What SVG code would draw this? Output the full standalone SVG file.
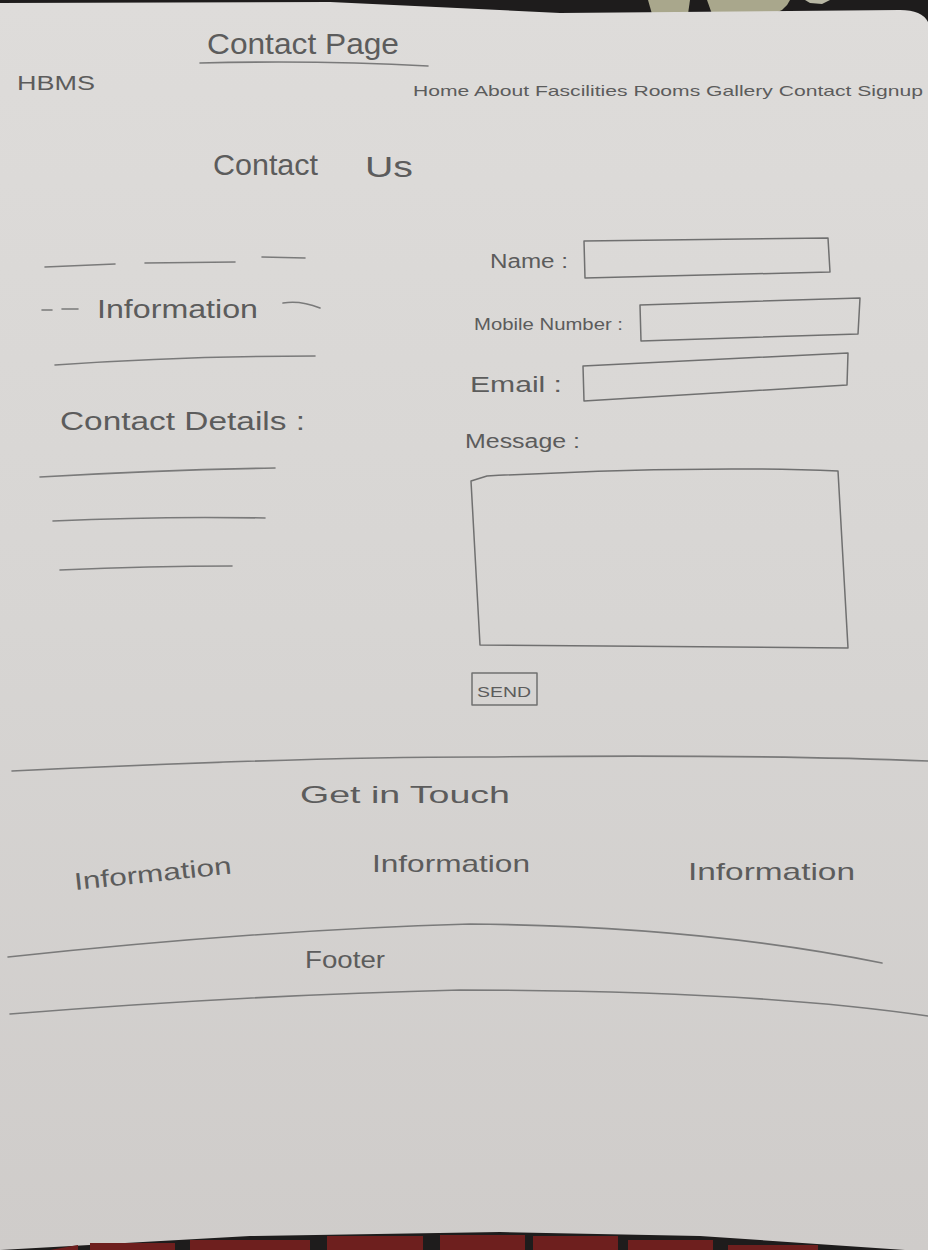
<svg xmlns="http://www.w3.org/2000/svg" width="928" height="1250" viewBox="0 0 928 1250">
  <style>
    .pen { fill: none; stroke: #7a7a7a; stroke-width: 1.6; stroke-linecap: round; stroke-linejoin: round; }
    .box { fill: none; stroke: #707070; stroke-width: 1.5; stroke-linejoin: round; }
    .txt { font-family: "Liberation Sans", "DejaVu Sans", sans-serif; fill: #5c5c5c; }
  </style>
  <defs>
    <linearGradient id="paper" x1="0" y1="0" x2="0" y2="1">
      <stop offset="0" stop-color="#dedcda"/>
      <stop offset="0.5" stop-color="#d7d5d3"/>
      <stop offset="1" stop-color="#cfccca"/>
    </linearGradient>
  </defs>

  <!-- backdrop and sheet -->
  <rect x="0" y="0" width="928" height="1250" fill="#1e1c1c"/>
  <!-- object behind the top edge -->
  <path d="M648 0 L690 0 L688 14 L652 14 Z" fill="#a9a78c"/>
  <path d="M707 0 L790 0 Q785 12 770 14 L712 14 Z" fill="#a9a78c"/>
  <path d="M805 0 L830 0 L822 4 L810 3 Z" fill="#b8b7a4"/>
  <path d="M0 3 L330 2 L560 13 L900 10 Q922 10 928 22 L928 1250 L905 1250 L700 1236 L500 1232 L250 1236 L0 1250 Z" fill="url(#paper)"/>
  <!-- red strips along bottom edge -->
  <g fill="#6e1f1e">
    <path d="M50 1250 L78 1245 L78 1250 Z"/>
    <rect x="90" y="1243" width="85" height="7"/>
    <rect x="190" y="1240" width="120" height="10"/>
    <rect x="327" y="1236" width="96" height="14"/>
    <rect x="440" y="1235" width="85" height="15"/>
    <rect x="533" y="1236" width="85" height="14"/>
    <rect x="628" y="1240" width="85" height="10"/>
    <rect x="728" y="1245" width="90" height="5"/>
  </g>

  <!-- page header -->
  <g id="title">
    <text class="txt" x="207" y="54" font-size="29" textLength="192" lengthAdjust="spacingAndGlyphs">Contact  Page</text>
    <path class="pen" d="M200 63 Q320 60 428 66"/>
  </g>
  <g id="logo">
    <text class="txt" x="17" y="90" font-size="20" textLength="78" lengthAdjust="spacingAndGlyphs">HBMS</text>
  </g>
  <g id="nav">
    <text class="txt" x="413" y="96" font-size="15" textLength="510" lengthAdjust="spacingAndGlyphs">Home About Fascilities Rooms Gallery Contact Signup</text>
  </g>
  <g id="heading">
    <text class="txt" x="213" y="175" font-size="30" textLength="105" lengthAdjust="spacingAndGlyphs">Contact</text>
    <text class="txt" x="365" y="177" font-size="30" textLength="48" lengthAdjust="spacingAndGlyphs">Us</text>
  </g>

  <!-- left info column -->
  <g id="info-panel">
    <path class="pen" d="M45 267 L115 264 M145 263 L235 262 M262 257 L305 258"/>
    <path class="pen" d="M42 310 L52 310 M62 309 L78 309 M283 303 Q300 300 320 308"/>
    <text class="txt" x="97" y="318" font-size="26" textLength="161" lengthAdjust="spacingAndGlyphs">Information</text>
    <path class="pen" d="M55 365 Q180 356 315 356"/>
    <text class="txt" x="60" y="430" font-size="26" textLength="245" lengthAdjust="spacingAndGlyphs">Contact  Details :</text>
    <path class="pen" d="M40 477 Q160 470 275 468"/>
    <path class="pen" d="M53 521 Q160 516 265 518"/>
    <path class="pen" d="M60 570 Q150 566 232 566"/>
  </g>

  <!-- contact form -->
  <g id="field-name">
    <text class="txt" x="490" y="268" font-size="20" textLength="78" lengthAdjust="spacingAndGlyphs">Name :</text>
    <path class="box" d="M584 241 L828 238 L830 272 L585 278 Z"/>
  </g>
  <g id="field-mobile">
    <text class="txt" x="474" y="330" font-size="17" textLength="149" lengthAdjust="spacingAndGlyphs">Mobile Number :</text>
    <path class="box" d="M640 305 L860 298 L858 334 L641 341 Z"/>
  </g>
  <g id="field-email">
    <text class="txt" x="470" y="392" font-size="22" textLength="92" lengthAdjust="spacingAndGlyphs">Email :</text>
    <path class="box" d="M583 366 L848 353 L847 385 L584 401 Z"/>
  </g>
  <g id="field-message">
    <text class="txt" x="465" y="448" font-size="20" textLength="115" lengthAdjust="spacingAndGlyphs">Message :</text>
    <path class="box" d="M487 476 Q700 465 838 471 L848 648 L480 645 L471 481 Z"/>
  </g>
  <g id="send-button">
    <rect class="box" x="472" y="673" width="65" height="32"/>
    <text class="txt" x="477" y="697" font-size="15" textLength="54" lengthAdjust="spacingAndGlyphs">SEND</text>
  </g>

  <!-- get in touch band -->
  <g id="get-in-touch">
    <path class="pen" d="M12 771 Q300 757 480 757 Q750 754 928 761"/>
    <text class="txt" x="300" y="803" font-size="24" textLength="210" lengthAdjust="spacingAndGlyphs">Get  in  Touch</text>
    <text class="txt" x="75" y="890" font-size="24" textLength="158" lengthAdjust="spacingAndGlyphs" transform="rotate(-6 75 890)">Information</text>
    <text class="txt" x="372" y="872" font-size="24" textLength="158" lengthAdjust="spacingAndGlyphs">Information</text>
    <text class="txt" x="688" y="880" font-size="24" textLength="167" lengthAdjust="spacingAndGlyphs">Information</text>
  </g>

  <!-- footer band -->
  <g id="footer">
    <path class="pen" d="M8 957 Q260 930 470 924 Q700 926 882 963"/>
    <text class="txt" x="305" y="968" font-size="24" textLength="80" lengthAdjust="spacingAndGlyphs">Footer</text>
    <path class="pen" d="M10 1014 Q250 995 460 990 Q750 990 928 1016"/>
  </g>
</svg>
